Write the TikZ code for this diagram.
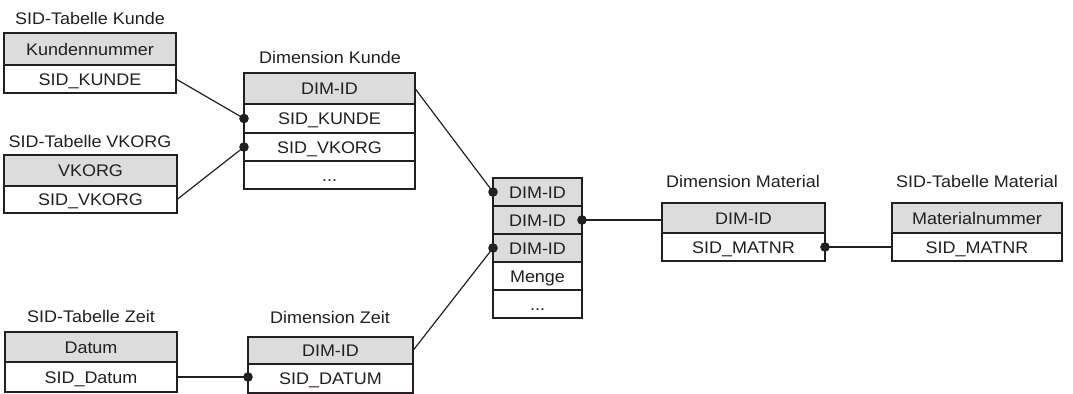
\documentclass[tikz,border=0pt]{standalone}
\usepackage{fontspec}
\setmainfont{Liberation Sans}[FakeStretch=1.07]
\definecolor{hdr}{HTML}{DCDCDC}
\definecolor{ink}{HTML}{231F20}
\tikzset{
 cellbox/.style={draw=ink, line width=0.9pt, inner sep=0pt, outer sep=0pt, anchor=north west,
   font=\fontsize{12.6}{14}\selectfont, text=ink, text height=9pt, text depth=0pt},
 head/.style={cellbox, fill=hdr},
 body/.style={cellbox, fill=white},
 title/.style={anchor=base, font=\fontsize{12.6}{14}\selectfont, text=ink, inner sep=0pt},
 link/.style={draw=ink, line width=0.9pt},
 dotmark/.style={fill=ink}
}
\begin{document}
\begin{tikzpicture}[x=0.75pt,y=-0.75pt]
\useasboundingbox (0,0) rectangle (1073,393);
% SID-Tabelle Kunde
\node[title] (skt) at (90,24) {SID-Tabelle Kunde};
\node[head, minimum width=172*0.75pt, minimum height=32*0.75pt] (sk0) at (4,33) {Kundennummer};
\node[body, minimum width=172*0.75pt, minimum height=28*0.75pt] (sk1) at (sk0.south west) {SID\_KUNDE};
% SID-Tabelle VKORG
\node[title] (svt) at (90,147) {SID-Tabelle VKORG};
\node[head, minimum width=173*0.75pt, minimum height=31*0.75pt] (sv0) at (4,155) {VKORG};
\node[body, minimum width=173*0.75pt, minimum height=27*0.75pt] (sv1) at (sv0.south west) {SID\_VKORG};
% Dimension Kunde
\node[title] (dkt) at (330,63) {Dimension Kunde};
\node[head, minimum width=171*0.75pt, minimum height=31*0.75pt] (dk0) at (244,73) {DIM-ID};
\node[body, minimum width=171*0.75pt, minimum height=29*0.75pt] (dk1) at (dk0.south west) {SID\_KUNDE};
\node[body, minimum width=171*0.75pt, minimum height=28*0.75pt] (dk2) at (dk1.south west) {SID\_VKORG};
\node[body, minimum width=171*0.75pt, minimum height=28*0.75pt] (dk3) at (dk2.south west) {...};
% Fact table
\node[head, minimum width=89*0.75pt, minimum height=28*0.75pt] (f0) at (493,178) {DIM-ID};
\node[head, minimum width=89*0.75pt, minimum height=28*0.75pt] (f1) at (f0.south west) {DIM-ID};
\node[head, minimum width=89*0.75pt, minimum height=28*0.75pt] (f2) at (f1.south west) {DIM-ID};
\node[body, minimum width=89*0.75pt, minimum height=28*0.75pt] (f3) at (f2.south west) {Menge};
\node[body, minimum width=89*0.75pt, minimum height=28*0.75pt] (f4) at (f3.south west) {...};
% Dimension Material
\node[title] (dmt) at (743,187) {Dimension Material};
\node[head, minimum width=163*0.75pt, minimum height=30*0.75pt] (dm0) at (662,203) {DIM-ID};
\node[body, minimum width=163*0.75pt, minimum height=28*0.75pt] (dm1) at (dm0.south west) {SID\_MATNR};
% SID-Tabelle Material
\node[title] (smt) at (977,187) {SID-Tabelle Material};
\node[head, minimum width=170*0.75pt, minimum height=30*0.75pt] (sm0) at (892,203) {Materialnummer};
\node[body, minimum width=170*0.75pt, minimum height=28*0.75pt] (sm1) at (sm0.south west) {SID\_MATNR};
% SID-Tabelle Zeit
\node[title] (szt) at (91,322) {SID-Tabelle Zeit};
\node[head, minimum width=172*0.75pt, minimum height=30*0.75pt] (sz0) at (5,332) {Datum};
\node[body, minimum width=172*0.75pt, minimum height=30*0.75pt] (sz1) at (sz0.south west) {SID\_Datum};
% Dimension Zeit
\node[title] (dzt) at (330,323) {Dimension Zeit};
\node[head, minimum width=165*0.75pt, minimum height=27*0.75pt] (dz0) at (248,337) {DIM-ID};
\node[body, minimum width=165*0.75pt, minimum height=29*0.75pt] (dz1) at (dz0.south west) {SID\_DATUM};
% connectors
\draw[link] (sk1.east) -- (dk1.west);
\draw[link] (sv1.east) -- (dk2.west);
\draw[link] (dk0.east) -- (f0.west);
\draw[link] (dz0.east) -- (f2.west);
\draw[link] (f1.east) -- (f1.east -| dm0.west);
\draw[link] (dm1.east) -- (sm1.west);
\draw[link] (sz1.east) -- (sz1.east -| dz1.west);
% dots
\fill[dotmark] (dk1.west) circle[radius=3.6pt];
\fill[dotmark] (dk2.west) circle[radius=3.6pt];
\fill[dotmark] (f0.west) circle[radius=3.6pt];
\fill[dotmark] (f2.west) circle[radius=3.6pt];
\fill[dotmark] (f1.east) circle[radius=3.6pt];
\fill[dotmark] (dm1.east) circle[radius=3.6pt];
\fill[dotmark] (sz1.east -| dz1.west) circle[radius=3.6pt];
\end{tikzpicture}
\end{document}
